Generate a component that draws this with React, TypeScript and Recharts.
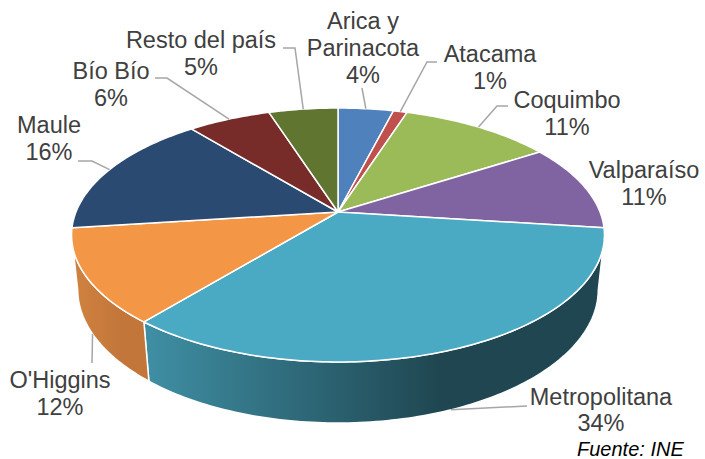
import React from "react";
import { PieChart, Pie } from "recharts";

const categories = [
  "Arica y Parinacota",
  "Atacama",
  "Coquimbo",
  "Valparaíso",
  "Metropolitana",
  "O'Higgins",
  "Maule",
  "Bío Bío",
  "Resto del país",
];
const shares = [4, 1, 11, 11, 34, 12, 16, 6, 5];

const topColors = ["#4f81bd", "#c0504d", "#9bbb59", "#8064a2", "#4aaac4", "#f39645", "#2a4a72", "#772c2a", "#5f7530"];
const sideLight = ["#40669a", "#9c3f3c", "#7d9848", "#674f86", "#3f8fa4", "#d08340", "#223d5e", "#5f2322", "#4b5e26"];
const sideDark = ["#2a4467", "#6a2a28", "#556630", "#45355a", "#1f4651", "#c2763a", "#172a40", "#401716", "#33401a"];

// label placement (text centre, first baseline, line gap, leader bend points)
const labelLayout = [
  { x: 363, y: 29, gap: 27, lines: ["Arica y", "Parinacota"], leader: [[362, 88]] },
  { x: 490, y: 62, gap: 27, lines: ["Atacama"], leader: [[427, 62], [437, 62]] },
  { x: 567, y: 108, gap: 27, lines: ["Coquimbo"], leader: [[497, 106], [508, 106]] },
  { x: 644, y: 178, gap: 27, lines: ["Valparaíso"], leader: [] },
  { x: 601, y: 405, gap: 26, lines: ["Metropolitana"], leader: [[527, 406]] },
  { x: 60, y: 388, gap: 27, lines: ["O'Higgins"], leader: [[92, 363]] },
  { x: 49, y: 133, gap: 27, lines: ["Maule"], leader: [[92, 161], [78, 161]] },
  { x: 111, y: 79, gap: 27, lines: ["Bío Bío"], leader: [[167, 78], [155, 78]] },
  { x: 201, y: 48, gap: 27, lines: ["Resto del país"], leader: [[295, 48], [283, 48]] },
];

const data = categories.map((name, i) => ({ name, value: shares[i] }));

// perspective view of a tilted disc
const VIEW = { f: 1279, d: 4.881, ce: 0.8834, se: 0.4686, h: 0.237 };
const SIL = (Math.acos(-VIEW.ce / VIEW.d) * 180) / Math.PI;

const project = (cx: number, cy: number, theta: number, bottom: boolean) => {
  const t = (theta * Math.PI) / 180;
  const X = Math.sin(t);
  const Z = Math.cos(t);
  const Y = bottom ? -VIEW.h : 0;
  const yc = Y * VIEW.ce + Z * VIEW.se;
  const zc = VIEW.d + Z * VIEW.ce - Y * VIEW.se;
  return [cx + (VIEW.f * X) / zc, cy - (VIEW.f * yc) / zc];
};

const arcPts = (cx: number, cy: number, from: number, to: number, bottom: boolean) => {
  const n = Math.max(2, Math.ceil(Math.abs(to - from)));
  const pts: number[][] = [];
  for (let i = 0; i <= n; i++) pts.push(project(cx, cy, from + ((to - from) * i) / n, bottom));
  return pts;
};

const toPath = (pts: number[][]) => pts.map((p, i) => `${i ? "L" : "M"}${p[0].toFixed(2)},${p[1].toFixed(2)}`).join(" ") + " Z";

const Slice3D = (props: any) => {
  const { cx, cy, startAngle, endAngle } = props;
  const name = props.name ?? props.payload?.name;
  const idx = categories.indexOf(name);
  const a = 90 - startAngle;
  const b = 90 - endAngle;
  const top = [[cx, cy], ...arcPts(cx, cy, a, b, false)];
  const lo = Math.max(a, SIL);
  const hi = Math.min(b, 360 - SIL);
  const gid = `side-grad-${idx}`;
  return (
    <g>
      {hi > lo && (
        <>
          <defs>
            <linearGradient id={gid} x1="0" y1="0" x2="0.65" y2="0">
              <stop offset="0" stopColor={sideLight[idx]} />
              <stop offset="1" stopColor={sideDark[idx]} />
            </linearGradient>
          </defs>
          <path
            d={toPath([...arcPts(cx, cy, lo, hi, false), ...arcPts(cx, cy, hi, lo, true)])}
            fill={`url(#${gid})`}
            stroke="#ffffff"
            strokeWidth={1.5}
            strokeLinejoin="round"
          />
        </>
      )}
      <path d={toPath(top)} fill={topColors[idx]} stroke="#ffffff" strokeWidth={1.5} strokeLinejoin="round" />
    </g>
  );
};

const renderLabel = (props: any) => {
  const { cx, cy, midAngle } = props;
  const name = props.name ?? props.payload?.name;
  const idx = categories.indexOf(name);
  const lay = labelLayout[idx];
  const theta = 90 - midAngle;
  const front = theta > SIL && theta < 360 - SIL;
  const start = project(cx, cy, theta, front);
  const lines = [...lay.lines, `${shares[idx]}%`];
  return (
    <g key={`lbl-${idx}`}>
      {lay.leader.length > 0 && (
        <polyline
          points={[start, ...lay.leader].map((p) => `${p[0]},${p[1]}`).join(" ")}
          fill="none"
          stroke="#a6a6a6"
          strokeWidth={1.5}
        />
      )}
      <text x={lay.x} y={lay.y} textAnchor="middle" fill="#404040" fontSize={23.5} fontFamily="'Liberation Sans', Arial, sans-serif">
        {lines.map((l, i) => (
          <tspan key={i} x={lay.x} y={lay.y + i * lay.gap}>
            {l}
          </tspan>
        ))}
      </text>
    </g>
  );
};

export default function App() {
  return (
    <div style={{ position: "absolute", left: 0, top: 0, width: 705, height: 459, background: "#ffffff" }}>
      <PieChart width={705} height={459} margin={{ top: 0, right: 0, bottom: 0, left: 0 }}>
        <Pie
          data={data}
          dataKey="value"
          nameKey="name"
          cx={338}
          cy={212}
          outerRadius={100}
          startAngle={90}
          endAngle={-270}
          stroke="none"
          shape={Slice3D}
          inactiveShape={Slice3D}
          activeShape={Slice3D}
          label={renderLabel}
          labelLine={false}
          isAnimationActive={false}
        />
        <text x={577} y={456} fill="#000000" fontSize={20} fontStyle="italic" fontFamily="'Liberation Sans', Arial, sans-serif">
          Fuente: INE
        </text>
      </PieChart>
    </div>
  );
}
